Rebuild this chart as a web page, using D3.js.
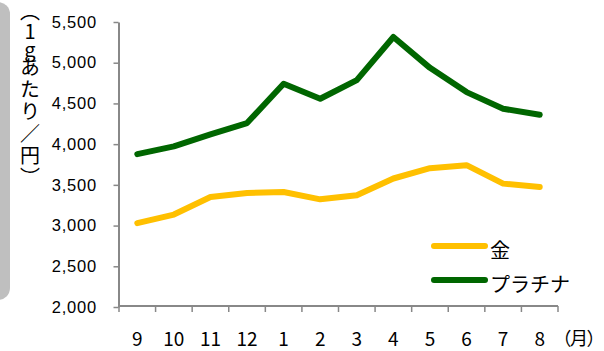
<!DOCTYPE html>
<html>
<head>
<meta charset="utf-8">
<script src="https://cdn.jsdelivr.net/npm/d3@7"></script>
<style>
  html, body { margin: 0; padding: 0; background: #fff; }
  svg { display: block; }
</style>
</head>
<body>
<svg id="chart" width="604" height="351"></svg>
<script>
// Monthly price per gram (yen), September through August
const months = ["9", "10", "11", "12", "1", "2", "3", "4", "5", "6", "7", "8"];
const gold = [3030, 3135, 3350, 3400, 3412, 3322, 3372, 3578, 3705, 3742, 3515, 3474];
const platinum = [3877, 3973, 4120, 4259, 4741, 4557, 4786, 5316, 4937, 4639, 4435, 4361];
const yTicks = [2000, 2500, 3000, 3500, 4000, 4500, 5000, 5500];
const seriesNames = ["金", "プラチナ"];
const seriesColors = ["#FFC000", "#006600"];
const yTitleParts = ["（", "1g", "あたり／円）"];

const svg = d3.select("#chart");

// side panel
svg.append("rect")
  .attr("x", -20).attr("y", 2).attr("width", 30).attr("height", 298)
  .attr("rx", 12).attr("fill", "#bfbfbf");

const x = d3.scaleBand().domain(months).range([119, 558]);
const y = d3.scaleLinear().domain([2000, 5500]).range([307, 22]);

const axisColor = "#888888";
const tickFont = "'Liberation Sans', Arial, sans-serif";
const jpFont = "'Noto Sans CJK JP', sans-serif";

// y axis
const yAxis = svg.append("g")
  .attr("transform", "translate(118.5,0)")
  .call(d3.axisLeft(y).tickValues(yTicks).tickSize(5).tickSizeOuter(0)
    .tickPadding(16.5).tickFormat(d3.format(",")));
yAxis.select(".domain").attr("stroke", axisColor).attr("stroke-width", 2);
yAxis.selectAll(".tick line").attr("stroke", axisColor).attr("stroke-width", 1.5);
yAxis.selectAll(".tick text")
  .attr("fill", "#000").style("font-family", tickFont)
  .style("font-size", "16.5px").style("letter-spacing", "0.8px");

// x axis: baseline with ticks at category boundaries
const xg = svg.append("g");
xg.append("line")
  .attr("x1", 118).attr("x2", x.range()[1])
  .attr("y1", 306).attr("y2", 306)
  .attr("stroke", axisColor).attr("stroke-width", 2);
const bounds = months.map(m => x(m)).concat([x.range()[1]]);
xg.selectAll("line.tk").data(bounds).join("line")
  .attr("class", "tk")
  .attr("x1", d => d).attr("x2", d => d)
  .attr("y1", 306).attr("y2", 312)
  .attr("stroke", axisColor).attr("stroke-width", 1.5);
xg.selectAll("text").data(months).join("text")
  .attr("x", d => x(d) + x.bandwidth() / 2)
  .attr("y", 337)
  .attr("text-anchor", "middle")
  .attr("dominant-baseline", "central")
  .style("font-family", jpFont)
  .style("font-size", "19px")
  .text(d => d);
svg.append("text")
  .attr("x", 603).attr("y", 337)
  .attr("text-anchor", "end")
  .attr("dominant-baseline", "central")
  .style("font-family", jpFont)
  .style("font-size", "18px")
  .style("letter-spacing", "-1.5px")
  .text("（月）");

// y axis title, set vertically; the Latin "1g" stands upright
const title = svg.append("text")
  .attr("x", 30).attr("y", 1)
  .style("writing-mode", "vertical-rl")
  .style("font-family", jpFont)
  .style("font-size", "20px");
title.append("tspan").text(yTitleParts[0]);
title.append("tspan")
  .style("text-orientation", "upright")
  .style("letter-spacing", "-2px")
  .text(yTitleParts[1]);
title.append("tspan")
  .style("letter-spacing", "2px")
  .text(yTitleParts[2]);

// lines
const line = d3.line()
  .x((d, i) => x(months[i]) + x.bandwidth() / 2)
  .y(d => y(d));
[gold, platinum].forEach((vals, k) => {
  svg.append("path")
    .datum(vals)
    .attr("d", line)
    .attr("fill", "none")
    .attr("stroke", seriesColors[k])
    .attr("stroke-width", 6)
    .attr("stroke-linejoin", "round")
    .attr("stroke-linecap", "round");
});

// legend
const legend = svg.append("g");
seriesNames.forEach((name, k) => {
  const ly = 246 + k * 34;
  legend.append("line")
    .attr("x1", 434).attr("x2", 485)
    .attr("y1", ly).attr("y2", ly)
    .attr("stroke", seriesColors[k]).attr("stroke-width", 6)
    .attr("stroke-linecap", "round");
  legend.append("text")
    .attr("x", 490).attr("y", ly + 3)
    .attr("dominant-baseline", "central")
    .style("font-family", jpFont)
    .style("font-size", "20px")
    .text(name);
});
</script>
</body>
</html>
